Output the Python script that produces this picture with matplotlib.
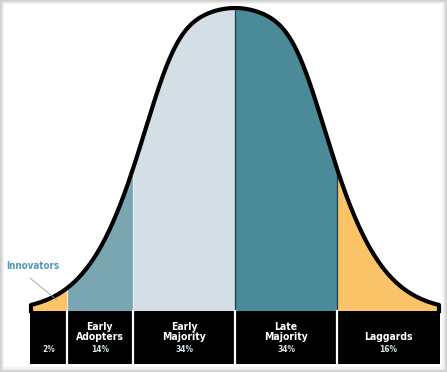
import numpy as np
import matplotlib
matplotlib.use("Agg")
import matplotlib.pyplot as plt
from matplotlib.patches import Rectangle

# ---- data ----
segment_names = ["", "Early\nAdopters", "Early\nMajority", "Late\nMajority", "Laggards"]
segment_pcts = ["2%", "14%", "34%", "34%", "16%"]
boundaries = [-2.0, -1.65, -1.0, 0.0, 1.0, 2.0]   # in standard deviations
segment_colors = ["#FCC468", "#7AA6B2", "#D3DFE4", "#4A8A99", "#FCC468"]
divider_colors = ["#F3E6CC", "#E8EEF0", "#1E3E46", "#1E3E46"]
peak_height = 303
shape_a = 0.25
shape_alpha = 1.557
shape_gamma = 2.077
callout_label = "Innovators"

W, H = 447, 372
fig = plt.figure(figsize=(W / 100, H / 100), dpi=100)
fig.patch.set_facecolor("#c4c4c4")

# background frame with shadow
bg = fig.add_axes([0, 0, 1, 1])
bg.set_xlim(0, W)
bg.set_ylim(H, 0)
bg.axis("off")
shades = ["#cfcfcf", "#dadada", "#e6e6e6", "#f2f2f2"]
for i, c in enumerate(shades):
    bg.add_patch(Rectangle((i, i), W - 2 * i, H - 2 * i, facecolor=c, edgecolor="none"))
bg.add_patch(Rectangle((4, 4), 438, 363, facecolor="white", edgecolor="none"))

txt = dict(family=["DejaVu Sans"], fontweight="bold", fontstretch="condensed")

# main axes: x in sd units, y in pixels of height above baseline
ax = fig.add_axes([31 / W, (H - 364) / H, 408 / W, 360 / H])
ax.set_xlim(-2, 2)
ax.set_ylim(-53, 307)
ax.axis("off")

def curve(z):
    z2 = np.asarray(z) ** 2
    e = shape_a * z2 + shape_alpha * z2 ** 3 / (1 + shape_gamma * z2 ** 2)
    return peak_height * np.exp(-e)

# coloured segments
for i in range(len(segment_names)):
    z = np.linspace(boundaries[i], boundaries[i + 1], 200)
    ax.fill_between(z, 0, curve(z), color=segment_colors[i], linewidth=0)

for j, b in enumerate(boundaries[1:-1]):
    ax.plot([b, b], [0, curve(b)], color=divider_colors[j], lw=0.9)

# outline
zz = np.linspace(boundaries[0], boundaries[-1], 600)
xo = np.concatenate([[boundaries[0]], zz, [boundaries[-1]]])
yo = np.concatenate([[0], curve(zz), [0]])
ax.plot(xo, yo, color="black", lw=3.0, solid_joinstyle="round", clip_on=False)

# black band
ax.add_patch(Rectangle((-2.01, -53), 4.02, 53, facecolor="black", edgecolor="none", clip_on=False))
for b in boundaries[1:-1]:
    ax.plot([b, b], [-53, 0], color="white", lw=1.6)

for i in range(len(segment_names)):
    xc = (boundaries[i] + boundaries[i + 1]) / 2
    if segment_names[i]:
        ax.text(xc, -31, segment_names[i], ha="center", va="bottom", color="white",
                fontsize=7.5, linespacing=0.95, **txt)
    ax.text(xc, -38, segment_pcts[i], ha="center", va="center", color="#d6e4ea",
            fontsize=6, **txt)

# innovators callout
ax.text(-1.98, 45, callout_label, ha="center", va="center", color="#4E9AB4",
        fontsize=7, clip_on=False, **txt)
ax.plot([-2.01, -1.745], [33, 11], color="#9a9a9a", lw=0.6, clip_on=False)

fig.savefig("out.png", dpi=100, facecolor=fig.get_facecolor())
